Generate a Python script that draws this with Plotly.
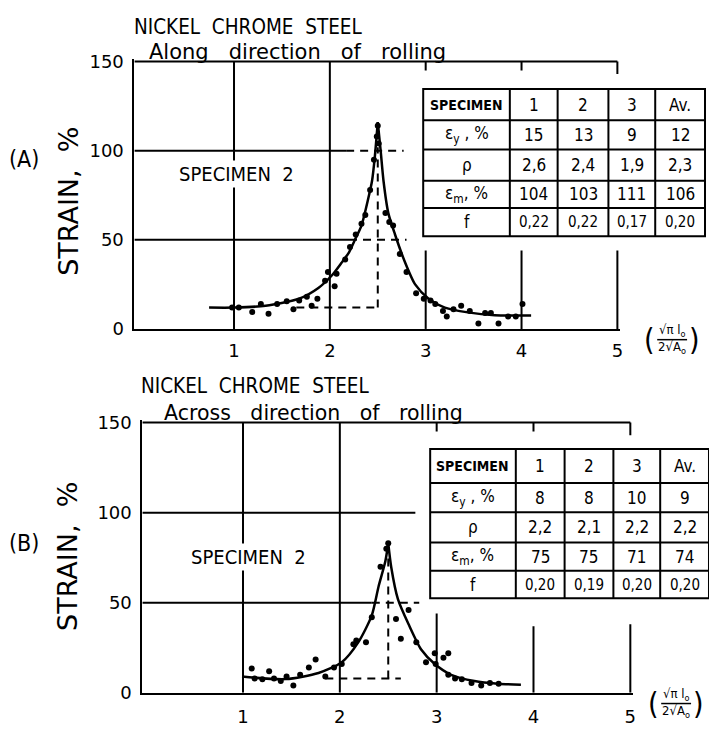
import plotly.graph_objects as go

W, H = 709, 735

# ---------------- data ----------------
# Panel A : along direction of rolling (specimen 2)
A_pts_x = [0.98, 1.05, 1.19, 1.28, 1.36, 1.45, 1.55, 1.62, 1.68, 1.76, 1.81, 1.87, 1.95, 1.98,
           2.05, 2.07, 2.16, 2.21, 2.27, 2.33, 2.37, 2.42, 2.46, 2.49, 2.50, 2.51, 2.58, 2.62,
           2.66, 2.73, 2.80, 2.90, 2.98, 3.05, 3.10, 3.18, 3.22, 3.29, 3.37, 3.46, 3.55, 3.62,
           3.68, 3.76, 3.86, 3.94, 4.01]
A_pts_y = [12, 12, 9.5, 14, 8.5, 14, 15.5, 11, 16, 18, 13, 17, 27, 32,
           24, 31, 39, 46, 53, 59, 64, 78, 95, 108, 114, 104, 65, 60,
           58, 42, 32, 20, 17, 16, 14, 10, 7, 11, 13, 10, 3, 9,
           9, 3, 7, 7, 14]
A_fit_left_x = [0.74, 1.0, 1.33, 1.68, 1.88, 2.02, 2.12, 2.2, 2.27, 2.33, 2.40, 2.44, 2.47, 2.50]
A_fit_left_y = [12, 12, 13, 17, 23, 30, 37, 43, 51, 58, 73, 83, 97, 116]
A_fit_right_x = [2.50, 2.53, 2.56, 2.61, 2.68, 2.78, 2.89, 3.03, 3.2, 3.44, 3.72, 4.1]
A_fit_right_y = [116, 100, 83, 65, 53, 38, 25, 17, 12, 9.3, 7.7, 7.5]
A_peak_x, A_peak_top, A_base = 2.50, 102, 12

# Panel B : across direction of rolling (specimen 2)
B_pts_x = [1.09, 1.12, 1.20, 1.27, 1.32, 1.39, 1.45, 1.52, 1.59, 1.68, 1.75, 1.85, 1.94, 2.02,
           2.14, 2.17, 2.27, 2.33, 2.42, 2.48, 2.50, 2.58, 2.63, 2.71, 2.79, 2.89, 2.98, 3.07,
           3.12, 2.99, 3.12, 3.19, 3.26, 3.36, 3.46, 3.55, 3.64]
B_pts_y = [13.5, 8, 7.5, 12, 8, 6.5, 9, 4, 10, 14, 18.5, 9, 14, 16,
           27, 29, 28, 42, 70, 80, 83, 41, 30, 46, 28, 17, 22, 19.5,
           22, 16, 10, 8, 7.5, 5.5, 4, 5.5, 5]
B_fit_left_x = [0.99, 1.44, 1.78, 2.02, 2.19, 2.33, 2.40, 2.47, 2.50]
B_fit_left_y = [9, 7.6, 11, 17, 28, 43, 59, 73, 83]
B_fit_right_x = [2.50, 2.53, 2.60, 2.71, 2.84, 2.98, 3.15, 3.39, 3.63, 3.87]
B_fit_right_y = [83, 70, 52, 38, 24, 16, 10, 6.5, 5, 4.5]
B_peak_x, B_peak_top, B_base = 2.50, 78, 8

# tables
col_heads = ["1", "2", "3", "Av."]
row_labels = ["SPECIMEN", "\u03b5<sub>y</sub> , %", "\u03c1", "\u03b5<sub>m</sub>, %", "f"]
A_eps_y = [15, 13, 9, 12]
A_rho = [2.6, 2.4, 1.9, 2.3]
A_eps_m = [104, 103, 111, 106]
A_f = [0.22, 0.22, 0.17, 0.20]
B_eps_y = [8, 8, 10, 9]
B_rho = [2.2, 2.1, 2.2, 2.2]
B_eps_m = [75, 75, 71, 74]
B_f = [0.20, 0.19, 0.20, 0.20]

x_ticks = [1, 2, 3, 4, 5]
y_ticks = [0, 50, 100, 150]

FONT = "DejaVu Sans Condensed, Liberation Sans Narrow, Liberation Sans, sans-serif"
WIDE = "DejaVu Sans, Liberation Sans, sans-serif"


def px(x):
    return x / W


def py(y):
    return 1 - y / H


fig = go.Figure()
shapes = []
annots = []


def dline(ax, x0, y0, x1, y1, dash="solid", width=2, layer="below"):
    shapes.append(dict(type="line", xref=ax[0], yref=ax[1], x0=x0, y0=y0, x1=x1, y1=y1,
                       line=dict(color="black", width=width, dash=dash), layer=layer))


def pline(x0, y0, x1, y1, width=2):
    shapes.append(dict(type="line", xref="paper", yref="paper", x0=px(x0), y0=py(y0),
                       x1=px(x1), y1=py(y1), line=dict(color="black", width=width), layer="above"))


def ptext(x, y, text, size, xanchor="center", angle=0, bg=None, family=FONT):
    a = dict(xref="paper", yref="paper", x=px(x), y=py(y), text=text, showarrow=False,
             xanchor=xanchor, yanchor="middle", textangle=angle,
             font=dict(family=family, size=size, color="black"))
    if bg:
        a["bgcolor"] = bg
    annots.append(a)


def panel(ax, pts_x, pts_y, lx, ly, rx, ry, peak_x, peak_top, base,
          grid100_solid, grid100_dash, grid50_solid, grid50_dash, base_from, base_to, stub_tops):
    fig.add_trace(go.Scatter(x=pts_x, y=pts_y, mode="markers", xaxis=ax[0], yaxis=ax[1],
                             marker=dict(color="black", size=6), showlegend=False, hoverinfo="skip"))
    for xs, ys in ((lx, ly), (rx, ry)):
        fig.add_trace(go.Scatter(x=xs, y=ys, mode="lines", xaxis=ax[0], yaxis=ax[1],
                                 line=dict(color="black", width=2.5, shape="spline", smoothing=0.7),
                                 showlegend=False, hoverinfo="skip"))
    # frame top + stubs
    dline(ax, -0.04, 150, 5.0, 150)
    dline(ax, 5.0, 150, 5.0, 143)
    dline(ax, 3, 150, 3, 145)
    dline(ax, 4, 150, 4, 145)
    # vertical grid lines
    dline(ax, 1, 0, 1, 150)
    dline(ax, 2, 0, 2, 150)
    for xv, top in zip([3, 4, 5], stub_tops):
        dline(ax, xv, 0, xv, top)
    # horizontal grid lines
    dline(ax, -0.04, 100, grid100_solid, 100)
    if grid100_dash:
        dline(ax, grid100_solid, 100, grid100_dash, 100, dash="8px,6px")
    dline(ax, -0.04, 50, grid50_solid, 50)
    dline(ax, grid50_solid, 50, grid50_dash, 50, dash="8px,6px")
    # peak construction lines
    dline(ax, peak_x, base, peak_x, peak_top, dash="8px,6px")
    dline(ax, base_from, base, base_to, base, dash="8px,6px")


panel(("x", "y"), A_pts_x, A_pts_y, A_fit_left_x, A_fit_left_y, A_fit_right_x, A_fit_right_y,
      A_peak_x, A_peak_top, A_base, 2.17, 2.77, 2.2, 2.8, 1.65, 2.52, [44, 44, 44])
panel(("x2", "y2"), B_pts_x, B_pts_y, B_fit_left_x, B_fit_left_y, B_fit_right_x, B_fit_right_y,
      B_peak_x, B_peak_top, B_base, 2.78, None, 2.33, 2.82, 1.85, 2.63, [44, 37, 38])


def fmt(v, nd):
    return f"{v:.{nd}f}".replace(".", ",")


def table(xe, ye, eps_y, rho, eps_m, f):
    shapes.append(dict(type="rect", xref="paper", yref="paper", x0=px(xe[0]), x1=px(xe[-1]),
                       y0=py(ye[-1]), y1=py(ye[0]), fillcolor="white",
                       line=dict(color="black", width=2), layer="above"))
    for xv in xe[1:-1]:
        pline(xv, ye[0], xv, ye[-1])
    for yv in ye[1:-1]:
        pline(xe[0], yv, xe[-1], yv)
    rows = [col_heads,
            [str(v) for v in eps_y],
            [fmt(v, 1) for v in rho],
            [str(v) for v in eps_m],
            [fmt(v, 2) for v in f]]
    for r in range(5):
        yc = (ye[r] + ye[r + 1]) / 2
        lab = row_labels[r] if r else "<b>" + row_labels[r] + "</b>"
        ptext((xe[0] + xe[1]) / 2, yc, lab, 14 if r == 0 else 17)
        for c in range(4):
            xc = (xe[c + 1] + xe[c + 2]) / 2
            ptext(xc, yc, rows[r][c], 15 if r == 4 else 17)


table([425, 512, 560, 611, 658, 708], [83, 115, 145, 177, 205, 234], A_eps_y, A_rho, A_eps_m, A_f)
table([432, 518, 567, 616, 663, 712], [452, 487, 517, 548, 577, 605], B_eps_y, B_rho, B_eps_m, B_f)

# titles and labels
ptext(133, 19, "NICKEL  CHROME  STEEL", 20.5, xanchor="left")
ptext(148, 45, "Along   direction   of   rolling", 21, xanchor="left", family=WIDE)
ptext(140, 388, "NICKEL  CHROME  STEEL", 20.5, xanchor="left")
ptext(163, 415, "Across   direction   of   rolling", 20.5, xanchor="left", family=WIDE)
ptext(24, 155, "(A)", 23)
ptext(24, 548, "(B)", 23)
ptext(68, 198, "STRAIN,  %", 27, angle=-90, family=WIDE)
ptext(68, 562, "STRAIN,  %", 27, angle=-90, family=WIDE)
ptext(238, 170, "SPECIMEN  2", 20, bg="white")
ptext(250, 563, "SPECIMEN  2", 20, bg="white")

# x-axis quantity (sqrt(pi) l0 / 2 sqrt(A0))
for (x0, yc) in ((648, 340), (652, 713)):
    ptext(x0 + 4, yc, "(", 30)
    ptext(x0 + 27, yc - 9, "\u221a\u03c0 l<sub>o</sub>", 13)
    ptext(x0 + 27, yc + 8, "2\u221aA<sub>o</sub>", 13)
    pline(x0 + 12, yc, x0 + 42, yc, width=1.5)
    ptext(x0 + 49, yc, ")", 30)

axis_common = dict(showline=True, linecolor="black", linewidth=2, showgrid=False, zeroline=False,
                   ticks="", tickfont=dict(family=WIDE, size=18, color="black"), fixedrange=True)

# A: x=0 at 138.75 px, 96.25 px/unit ; y=0 at 329 px, 1.827 px/unit
# B: x=0 at 146.75 px, 97.25 px/unit ; y=0 at 702 px, 1.847 px/unit
fig.update_layout(
    width=W, height=H, autosize=False,
    margin=dict(l=0, r=0, t=0, b=0),
    paper_bgcolor="white", plot_bgcolor="rgba(0,0,0,0)",
    showlegend=False,
    xaxis=dict(domain=[px(135), px(138.75 + 96.25 * 5.03)], range=[-0.039, 5.03], anchor="y",
               tickvals=x_ticks, ticklabelstandoff=4, **axis_common),
    yaxis=dict(domain=[py(329), py(329 - 1.827 * 151.5)], range=[0, 151.5], anchor="x",
               tickvals=y_ticks, ticklabelstandoff=5, **axis_common),
    xaxis2=dict(domain=[px(143), px(146.75 + 97.25 * 5.03)], range=[-0.039, 5.03], anchor="y2",
                tickvals=x_ticks, ticklabelstandoff=7, **axis_common),
    yaxis2=dict(domain=[py(702), py(702 - 1.847 * 151.5)], range=[0, 151.5], anchor="x2",
                tickvals=y_ticks, ticklabelstandoff=5, **axis_common),
    shapes=shapes,
    annotations=annots,
)

fig.write_html("out.html")
